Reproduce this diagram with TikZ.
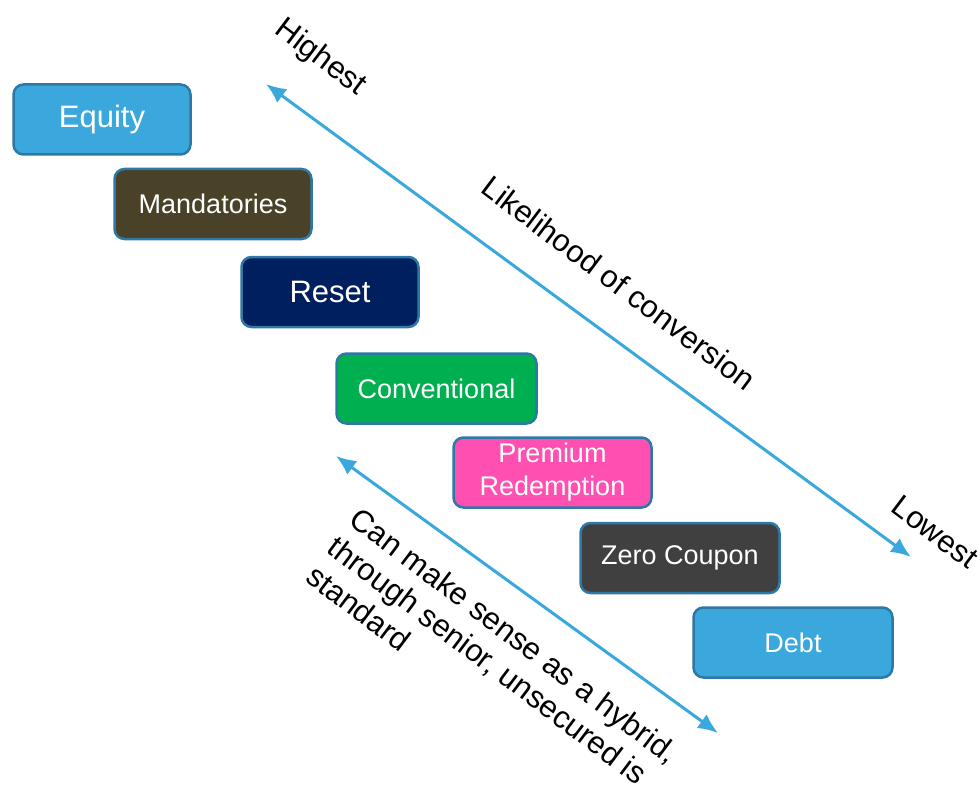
\documentclass[tikz,border=0pt]{standalone}
\usepackage{fontspec}
\setmainfont{Liberation Sans}
\usetikzlibrary{arrows.meta,positioning}
\definecolor{SecBlue}{HTML}{3AA8DC}
\definecolor{SecEdge}{HTML}{2E78A6}
\definecolor{SecOlive}{HTML}{4A4228}
\definecolor{SecNavy}{HTML}{001F5F}
\definecolor{SecGreen}{HTML}{00B050}
\definecolor{SecPink}{HTML}{FF4FB0}
\definecolor{SecGrey}{HTML}{404040}
\tikzset{
  secbox/.style={draw=SecEdge,line width=2.5pt,rounded corners=10pt,minimum height=70pt,
    text=white,align=center,inner sep=2pt,font=\fontsize{27}{33}\selectfont},
  bigbox/.style={secbox,font=\fontsize{31}{36}\selectfont},
  convarrow/.style={draw=SecBlue,line width=3pt,
    {Latex[length=20pt,width=17pt]}-{Latex[length=20pt,width=17pt]}},
  sidelabel/.style={font=\fontsize{31}{36}\selectfont,rotate=-37,inner sep=0pt,align=left}
}

\begin{document}
\begin{tikzpicture}[x=1pt,y=-1pt]
  \useasboundingbox (0,0) rectangle (980,789);
  \clip (0,0) rectangle (980,789);

  \node[bigbox,fill=SecBlue,minimum width=177pt] (equity) at (102,119.5) {Equity};
  \node[secbox,fill=SecOlive,minimum width=197pt] (mand) at (213,204) {Mandatories};
  \node[bigbox,fill=SecNavy,minimum width=177pt] (reset) at (330,292) {Reset};
  \node[secbox,fill=SecGreen,minimum width=200pt] (conv) at (436.5,388.5) {Conventional};
  \node[secbox,fill=SecPink,minimum width=198pt] (prem) at (552.5,472.5) {Premium\\Redemption};
  \node[secbox,fill=SecGrey,minimum width=199pt] (zero) at (680,558) {Zero Coupon};
  \node[secbox,fill=SecBlue,minimum width=199pt] (debt) at (793,642.5) {Debt};

  \coordinate (hiTip) at (266,84);
  \coordinate (loTip) at (911,557);
  \draw[convarrow] (hiTip) -- (loTip);
  \node[sidelabel] (high) at (320,58) {Highest};
  \node[sidelabel] (likely) at (619,283) {Likelihood of conversion};
  \node[sidelabel] (low) at (935,532) {Lowest};

  \coordinate (hybTop) at (336,456);
  \coordinate (hybEnd) at (718,733);
  \draw[convarrow] (hybTop) -- (hybEnd);
  \node[sidelabel,anchor=north west] (hybrid) at (361,505)
    {Can make sense as a hybrid,\\through senior, unsecured is\\standard};
\end{tikzpicture}
\end{document}
